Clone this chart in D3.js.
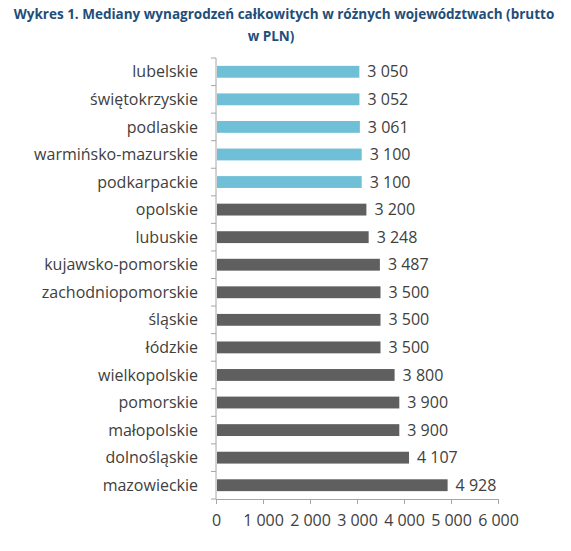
<!DOCTYPE html>
<html>
<head>
<meta charset="utf-8">
<script src="https://cdn.jsdelivr.net/npm/d3@7"></script>
<style>
  body { margin: 0; background: #fff; }
  svg { display: block; font-family: "Open Sans", sans-serif; }
</style>
</head>
<body>
<svg id="chart" width="571" height="551"></svg>
<script>
const regions = ["lubelskie", "świętokrzyskie", "podlaskie", "warmińsko-mazurskie", "podkarpackie",
  "opolskie", "lubuskie", "kujawsko-pomorskie", "zachodniopomorskie", "śląskie", "łódzkie",
  "wielkopolskie", "pomorskie", "małopolskie", "dolnośląskie", "mazowieckie"];
const medians = [3050, 3052, 3061, 3100, 3100, 3200, 3248, 3487, 3500, 3500, 3500, 3800, 3900, 3900, 4107, 4928];
const lowest = ["lubelskie", "świętokrzyskie", "podlaskie", "warmińsko-mazurskie", "podkarpackie"];
const xTicks = [0, 1000, 2000, 3000, 4000, 5000, 6000];

const svg = d3.select("#chart");
const plotLeft = 216, plotRight = 498, plotTop = 58, plotBottom = 499;

const fmt = (v) => d3.format(",")(v).replace(/,/g, " ");

const x = d3.scaleLinear().domain([0, 6000]).range([plotLeft, plotRight]);
const y = d3.scaleBand().domain(regions).range([plotTop, plotBottom]).paddingInner(0.57).paddingOuter(0.285);

// title
svg.append("text").attr("x", 284).attr("y", 19).attr("text-anchor", "middle")
  .attr("font-weight", "bold").attr("font-size", 13.5).attr("fill", "#1f4e79")
  .text("Wykres 1. Mediany wynagrodzeń całkowitych w różnych województwach (brutto");
svg.append("text").attr("x", 271).attr("y", 41).attr("text-anchor", "middle")
  .attr("font-weight", "bold").attr("font-size", 13.5).attr("fill", "#1f4e79")
  .text("w PLN)");

// bars
svg.selectAll("rect.bar").data(regions).enter().append("rect")
  .attr("class", "bar")
  .attr("x", x(0) + 1)
  .attr("y", (d) => y(d))
  .attr("width", (d, i) => x(medians[i]) - x(0) - 1)
  .attr("height", y.bandwidth())
  .attr("fill", (d) => lowest.includes(d) ? "#6fc0d6" : "#5f5f5f");

// value labels
svg.selectAll("text.val").data(regions).enter().append("text")
  .attr("class", "val")
  .attr("x", (d, i) => x(medians[i]) + 8)
  .attr("y", (d) => y(d) + y.bandwidth() / 2)
  .attr("dy", "0.35em")
  .attr("font-size", 16)
  .attr("fill", "#404040")
  .text((d, i) => fmt(medians[i]));

// y axis: line + ticks at band boundaries
const step = y.step();
const yAxis = svg.append("g");
yAxis.append("line").attr("x1", plotLeft).attr("x2", plotLeft).attr("y1", plotTop).attr("y2", plotBottom)
  .attr("stroke", "#a6a6a6");
yAxis.selectAll("line.tick").data(d3.range(regions.length + 1)).enter().append("line")
  .attr("class", "tick")
  .attr("x1", plotLeft - 5).attr("x2", plotLeft)
  .attr("y1", (i) => plotTop + i * step).attr("y2", (i) => plotTop + i * step)
  .attr("stroke", "#a6a6a6");
yAxis.selectAll("text").data(regions).enter().append("text")
  .attr("x", 198).attr("y", (d) => y(d) + y.bandwidth() / 2).attr("dy", "0.35em")
  .attr("text-anchor", "end").attr("font-size", 16).attr("fill", "#404040")
  .text((d) => d);

// x axis
const xAxis = svg.append("g").attr("transform", `translate(0,${plotBottom})`)
  .call(d3.axisBottom(x).tickValues(xTicks).tickSize(5).tickSizeOuter(0).tickFormat(fmt));
xAxis.select(".domain").attr("stroke", "#a6a6a6");
xAxis.selectAll(".tick line").attr("stroke", "#a6a6a6");
xAxis.selectAll(".tick text").attr("font-size", 16).attr("fill", "#404040")
  .attr("font-family", "Open Sans, sans-serif").attr("dy", "1.2em");
</script>
</body>
</html>
